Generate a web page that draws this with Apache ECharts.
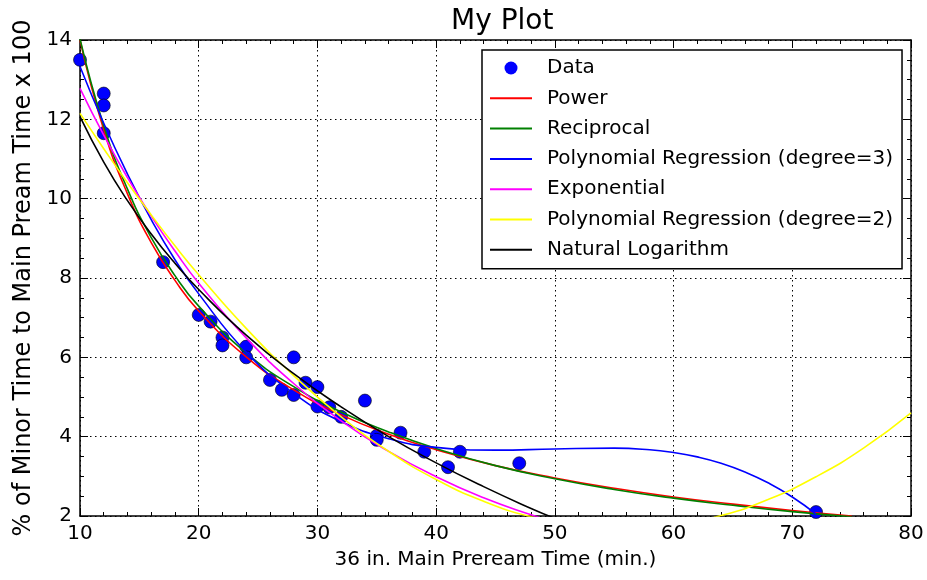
<!DOCTYPE html>
<html>
<head>
<meta charset="utf-8">
<title>My Plot</title>
<script src="https://cdn.jsdelivr.net/npm/echarts@6/dist/echarts.min.js"></script>
<style>
  html, body { margin: 0; padding: 0; background: #fff; }
  #chartBox { width: 927px; height: 580px; }
</style>
</head>
<body>
<div id="chartBox"></div>
<script>
// measured points
const dataX = [10, 12, 12, 12, 17, 20, 21, 22, 22, 24, 24, 26, 27, 28, 28, 29, 30, 30, 31, 32, 34, 35, 35, 37, 39, 41, 42, 47, 72];
const dataY = [13.5, 12.65, 12.35, 11.65, 8.4, 7.07, 6.9, 6.5, 6.3, 6.27, 6.0, 5.43, 5.18, 6.0, 5.05, 5.36, 5.25, 4.76, 4.74, 4.5, 4.91, 4.02, 3.92, 4.1, 3.62, 3.23, 3.62, 3.33, 2.1];

// fitted curves
const powerX = [10, 12, 14, 16, 18, 20, 24, 28, 32, 36, 40, 45, 50, 55, 60, 65, 70, 75];
const powerY = [14.0, 11.74, 10.12, 8.89, 7.94, 7.17, 6.01, 5.18, 4.55, 4.06, 3.67, 3.27, 2.96, 2.70, 2.48, 2.30, 2.14, 2.0];

const recipX = [10, 12, 14, 16, 18, 20, 24, 28, 32, 36, 40, 45, 50, 55, 60, 65, 70, 75];
const recipY = [14.03, 11.84, 10.24, 9.02, 8.06, 7.29, 6.11, 5.26, 4.62, 4.12, 3.70, 3.27, 2.94, 2.67, 2.45, 2.27, 2.11, 1.98];

const poly3X = [10, 12, 14, 16, 18, 20, 24, 28, 32, 36, 40, 45, 50, 55, 58, 60, 62, 64, 66, 68, 70, 72];
const poly3Y = [13.33, 11.9, 10.62, 9.47, 8.46, 7.6, 6.13, 5.09, 4.38, 3.95, 3.73, 3.66, 3.69, 3.71, 3.67, 3.6, 3.49, 3.33, 3.11, 2.83, 2.48, 2.05];

const expX = [10, 12, 14, 16, 18, 20, 24, 28, 32, 36, 40, 44, 48, 50];
const expY = [12.78, 11.6, 10.53, 9.56, 8.68, 7.87, 6.49, 5.34, 4.4, 3.63, 2.99, 2.46, 2.03, 1.84];

const poly2X = [10, 12, 14, 16, 18, 20, 24, 28, 32, 36, 40, 44, 48, 52, 56, 60, 64, 68, 72, 76, 80];
const poly2Y = [12.15, 11.26, 10.4, 9.59, 8.81, 8.08, 6.73, 5.54, 4.5, 3.63, 2.92, 2.37, 1.98, 1.75, 1.68, 1.76, 2.01, 2.42, 2.99, 3.71, 4.6];

const logX = [10, 12, 14, 16, 18, 20, 24, 28, 32, 36, 40, 44, 48, 50];
const logY = [12.07, 10.92, 9.95, 9.11, 8.37, 7.71, 6.56, 5.59, 4.75, 4.0, 3.34, 2.74, 2.19, 1.94];

const xTicks = [10, 20, 30, 40, 50, 60, 70, 80];
const yTicks = [2, 4, 6, 8, 10, 12, 14];

const FONT = 'DejaVu Sans';
const zip = (xs, ys) => xs.map((x, i) => [x, ys[i]]);

function fitLine(name, xs, ys, color) {
  return {
    name: name,
    type: 'line',
    data: zip(xs, ys),
    xAxisIndex: 0,
    yAxisIndex: 0,
    symbol: 'none',
    smooth: 0.5,
    clip: true,
    lineStyle: { color: color, width: 1.6 },
    itemStyle: { color: color },
    z: 3
  };
}

function axisCommon(show, split) {
  return {
    axisLine: { show: true, lineStyle: { color: '#000', width: 1.5 } },
    axisTick: { show: true, inside: true, length: 8, lineStyle: { color: '#000', width: 1 } },
    minorTick: { show: true, splitNumber: split, length: 4, lineStyle: { color: '#000', width: 1 } },
    axisLabel: { show: show, color: '#000', fontFamily: FONT, fontSize: 20, margin: 8 }
  };
}

const gridLine = { show: true, lineStyle: { color: '#000', width: 1, type: [1.5, 3.5] } };
const legendLineItem = name => ({ name: name, itemStyle: { opacity: 0 } });

const myChart = echarts.init(document.getElementById('chartBox'), null, { renderer: 'canvas' });

const option = {
  backgroundColor: '#fff',
  animation: false,
  title: {
    text: 'My Plot',
    left: 446,
    top: 3,
    textStyle: { color: '#000', fontFamily: FONT, fontSize: 28, fontWeight: 'normal' }
  },
  grid: { left: 80, right: 16, top: 40, bottom: 64, containLabel: false, outerBoundsMode: 'none' },
  legend: {
    orient: 'vertical',
    left: 482,
    top: 50,
    padding: [8, 9, 9, 7],
    itemWidth: 42,
    itemHeight: 13,
    itemGap: 10.3,
    backgroundColor: '#fff',
    borderColor: '#000',
    borderWidth: 1.5,
    textStyle: { color: '#000', fontFamily: FONT, fontSize: 20, lineHeight: 20, padding: [0, 0, 0, 10] },
    data: [
      { name: 'Data', itemStyle: { borderWidth: 0 } },
      legendLineItem('Power'),
      legendLineItem('Reciprocal'),
      legendLineItem('Polynomial Regression (degree=3)'),
      legendLineItem('Exponential'),
      legendLineItem('Polynomial Regression (degree=2)'),
      legendLineItem('Natural Logarithm')
    ]
  },
  xAxis: [
    Object.assign({
      type: 'value', position: 'bottom', min: xTicks[0], max: xTicks[xTicks.length - 1], interval: 10,
      name: '36 in. Main Preream Time (min.)', nameLocation: 'middle', nameGap: 34,
      nameTextStyle: { color: '#000', fontFamily: FONT, fontSize: 20 },
      splitLine: gridLine
    }, axisCommon(true, 5)),
    Object.assign({
      type: 'value', position: 'top', min: 10, max: 80, interval: 10,
      splitLine: { show: false }
    }, axisCommon(false, 5))
  ],
  yAxis: [
    Object.assign({
      type: 'value', position: 'left', min: yTicks[0], max: yTicks[yTicks.length - 1], interval: 2,
      name: '% of Minor Time to Main Pream Time x 100', nameLocation: 'middle', nameGap: 44,
      nameTextStyle: { color: '#000', fontFamily: FONT, fontSize: 24 },
      splitLine: gridLine
    }, axisCommon(true, 4)),
    Object.assign({
      type: 'value', position: 'right', min: 2, max: 14, interval: 2,
      splitLine: { show: false }
    }, axisCommon(false, 4))
  ],
  series: [
    {
      name: 'Data',
      type: 'scatter',
      data: zip(dataX, dataY),
      xAxisIndex: 0,
      yAxisIndex: 0,
      symbol: 'circle',
      symbolSize: 13,
      itemStyle: { color: '#0000ff', borderColor: '#000', borderWidth: 0.6, opacity: 1 },
      z: 2
    },
    fitLine('Power', powerX, powerY, '#ff0000'),
    fitLine('Reciprocal', recipX, recipY, '#008000'),
    fitLine('Polynomial Regression (degree=3)', poly3X, poly3Y, '#0000ff'),
    fitLine('Exponential', expX, expY, '#ff00ff'),
    fitLine('Polynomial Regression (degree=2)', poly2X, poly2Y, '#ffff00'),
    fitLine('Natural Logarithm', logX, logY, '#000000')
  ]
};

myChart.setOption(option);
</script>
</body>
</html>
